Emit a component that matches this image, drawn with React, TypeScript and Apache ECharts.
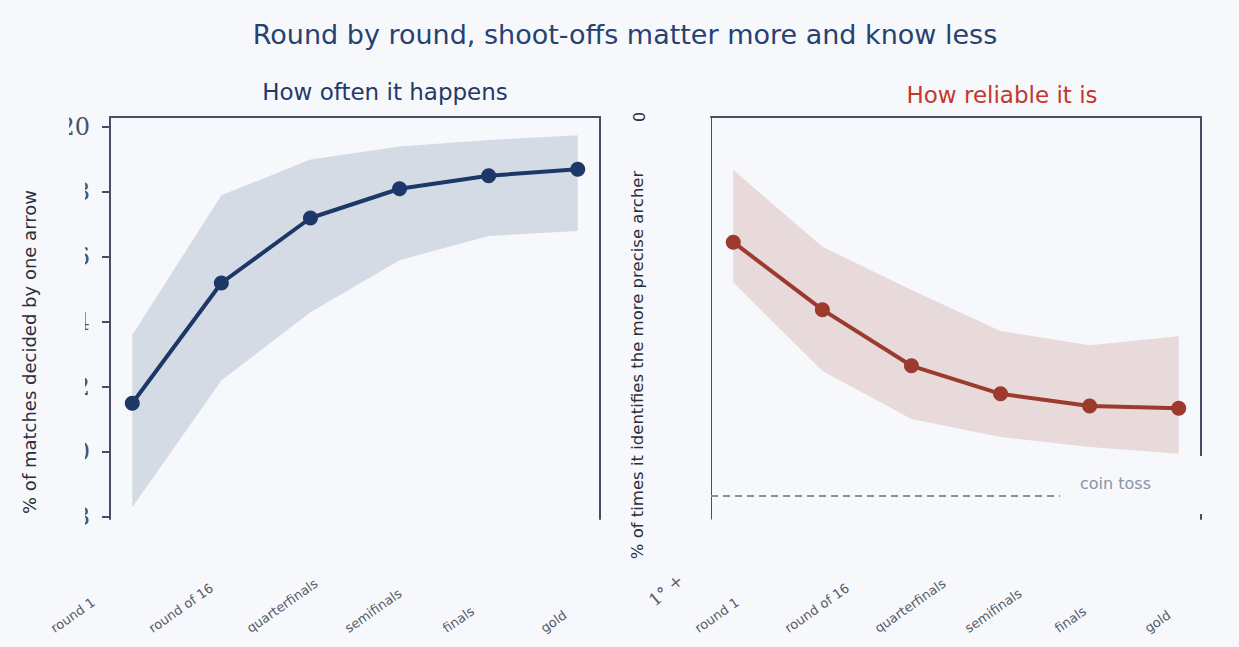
import React, { useEffect, useRef } from "react";
import * as echarts from "echarts";

const categories = ["round 1", "round of 16", "quarterfinals", "semifinals", "finals", "gold"];
const oftenMid = [11.5, 15.2, 17.2, 18.1, 18.5, 18.7];
const oftenLow = [8.3, 12.2, 14.3, 15.9, 16.65, 16.8];
const oftenHigh = [13.6, 17.9, 19.0, 19.4, 19.6, 19.75];
const reliableMid = [83.5, 74.6, 67.2, 63.5, 61.9, 61.6];
const reliableLow = [78.2, 66.5, 60.2, 57.8, 56.5, 55.6];
const reliableHigh = [93.0, 82.9, 77.2, 71.8, 69.9, 71.1];
const oftenAxis = { min: 8, max: 20, interval: 2 };
const reliableAxis = { min: 47, max: 100 };
const coinToss = 50;

const BG = "#f7f8fc";
const FRAME = "#474e63";
const BLUE = "#1c3768";
const RED = "#9c3a2d";
const SANS = "DejaVu Sans";

function pairs(vals: number[]) {
  return vals.map((v, i) => [i, v]);
}

function band(xAxisIndex: number, yAxisIndex: number, low: number[], high: number[], fill: string) {
  return {
    type: "custom",
    xAxisIndex,
    yAxisIndex,
    silent: true,
    z: 1,
    encode: { x: 0, y: [1, 2] },
    data: low.map((v, i) => [i, v, high[i]]),
    renderItem: (params: any, api: any) => {
      if (params.dataIndex !== 0) return null;
      const pts: number[][] = [];
      high.forEach((v, i) => pts.push(api.coord([i, v])));
      for (let i = low.length - 1; i >= 0; i--) pts.push(api.coord([i, low[i]]));
      return { type: "polygon", shape: { points: pts }, style: { fill } };
    },
  };
}

export default function App() {
  const ref = useRef<HTMLDivElement>(null);
  useEffect(() => {
    document.body.style.background = BG;
    const chart = echarts.init(ref.current!, null, { renderer: "svg" });
    const hiddenValueX = (grid: number, position = "bottom") => ({
      type: "value",
      gridIndex: grid,
      min: -0.25,
      max: 5.25,
      position,
      axisLine: { show: position === "top", onZero: false, lineStyle: { color: FRAME, width: 2 } },
      axisTick: { show: false },
      axisLabel: { show: false },
      splitLine: { show: false },
    });
    const labelX = (grid: number) => ({
      type: "category",
      gridIndex: grid,
      boundaryGap: false,
      data: categories,
      axisLine: { show: false, onZero: false },
      axisTick: { show: false },
      splitLine: { show: false },
      axisLabel: {
        rotate: 35,
        align: "left",
        verticalAlign: "bottom",
        margin: 0,
        interval: 0,
        fontSize: 13,
        fontFamily: SANS,
        color: "#555a66",
      },
    });
    const frameY = (grid: number, position: string, width: number, extra: any = {}) => ({
      type: "value",
      gridIndex: grid,
      position,
      axisLine: { show: true, onZero: false, lineStyle: { color: FRAME, width } },
      axisTick: { show: false },
      axisLabel: { show: false },
      splitLine: { show: false },
      ...extra,
    });
    chart.setOption({
      animation: false,
      backgroundColor: BG,
      grid: [
        { left: 110, right: 639, top: 127, bottom: 130 },
        { left: 110, right: 639, top: 117, bottom: 128 },
        { left: 711, right: 38, top: 117, bottom: 128 },
        { left: 56, right: 693, bottom: 12, height: 1 },
        { left: 700, right: 89, bottom: 12, height: 1 },
      ],
      xAxis: [
        hiddenValueX(0),
        { ...hiddenValueX(1, "top"), min: 0, max: 1 },
        hiddenValueX(2, "top"),
        labelX(3),
        labelX(4),
      ],
      yAxis: [
        {
          type: "value",
          gridIndex: 0,
          min: oftenAxis.min,
          max: oftenAxis.max,
          interval: oftenAxis.interval,
          axisLine: { show: false, onZero: false },
          axisTick: { show: true, length: 8, lineStyle: { color: FRAME, width: 2 } },
          axisLabel: { margin: 20, fontSize: 24, fontFamily: "DejaVu Serif", color: "#4b5262" },
          splitLine: { show: false },
        },
        frameY(1, "left", 2, { min: 0, max: 1 }),
        frameY(1, "right", 2, { min: 0, max: 1 }),
        frameY(2, "left", 1, { min: reliableAxis.min, max: reliableAxis.max }),
        frameY(2, "right", 2, { min: reliableAxis.min, max: reliableAxis.max }),
        { type: "value", gridIndex: 3, show: false, splitLine: { show: false } },
        { type: "value", gridIndex: 4, show: false, splitLine: { show: false } },
      ],
      series: [
        band(0, 0, oftenLow, oftenHigh, "#d4dbe5"),
        {
          type: "line", xAxisIndex: 0, yAxisIndex: 0, data: pairs(oftenMid),
          symbol: "circle", symbolSize: 15, itemStyle: { color: BLUE },
          lineStyle: { color: BLUE, width: 4 }, z: 5,
        },
        band(2, 3, reliableLow, reliableHigh, "#e8d9db"),
        {
          type: "line", xAxisIndex: 2, yAxisIndex: 3, data: pairs(reliableMid),
          symbol: "circle", symbolSize: 15, itemStyle: { color: RED },
          lineStyle: { color: RED, width: 4 }, z: 5,
          markLine: {
            silent: true,
            symbol: ["none", "none"],
            label: { show: false },
            lineStyle: { color: "#8a8f9e", width: 2, type: [7, 5] },
            data: [{ yAxis: coinToss }],
          },
        },
      ],
      graphic: [
        { type: "rect", z: 100, shape: { x: 40, y: 148, width: 45, height: 385 }, style: { fill: BG } },
        { type: "rect", z: 100, shape: { x: 44, y: 105, width: 25, height: 40 }, style: { fill: BG } },
        { type: "rect", z: 100, shape: { x: 1060, y: 456, width: 149, height: 58 }, style: { fill: BG } },
        {
          type: "text", z: 101, x: 1080, y: 483,
          style: { text: "coin toss", fill: "#8a93a5", fontSize: 16, fontFamily: SANS, align: "left", verticalAlign: "middle" },
        },
        {
          type: "text", z: 101, x: 625, y: 34,
          style: { text: "Round by round, shoot-offs matter more and know less", fill: "#26426f", fontSize: 27, fontFamily: SANS, align: "center", verticalAlign: "middle" },
        },
        {
          type: "text", z: 101, x: 385, y: 92,
          style: { text: "How often it happens", fill: "#1f3a68", fontSize: 23, fontFamily: SANS, align: "center", verticalAlign: "middle" },
        },
        {
          type: "text", z: 101, x: 1002, y: 95,
          style: { text: "How reliable it is", fill: "#c0392b", fontSize: 23, fontFamily: SANS, align: "center", verticalAlign: "middle" },
        },
        {
          type: "text", z: 101, x: 29, y: 352, rotation: Math.PI / 2,
          style: { text: "% of matches decided by one arrow", fill: "#2b2f3a", fontSize: 18, fontFamily: SANS, align: "center", verticalAlign: "middle" },
        },
        {
          type: "text", z: 101, x: 637, y: 365, rotation: Math.PI / 2,
          style: { text: "% of times it identifies the more precise archer", fill: "#2b2f3a", fontSize: 16.5, fontFamily: SANS, align: "center", verticalAlign: "middle" },
        },
        {
          type: "text", z: 101, x: 639, y: 117, rotation: Math.PI / 2,
          style: { text: "0", fill: "#2b2f3a", fontSize: 16, fontFamily: SANS, align: "center", verticalAlign: "middle" },
        },
        {
          type: "text", z: 101, x: 666, y: 590, rotation: (40 * Math.PI) / 180,
          style: { text: "1° +", fill: "#555a66", fontSize: 17, fontFamily: "DejaVu Serif", align: "center", verticalAlign: "middle" },
        },
      ],
    });
    return () => chart.dispose();
  }, []);
  return (
    <div
      ref={ref}
      style={{ position: "fixed", left: 0, top: 0, width: 1239, height: 647, background: BG }}
    />
  );
}
